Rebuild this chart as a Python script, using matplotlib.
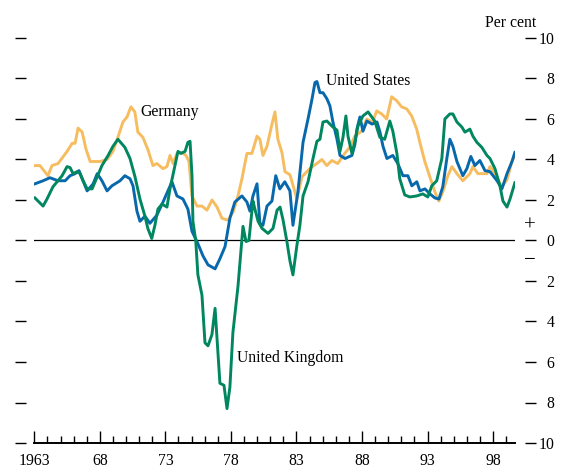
# inflacion_g3.py
# -*- coding: utf-8 -*-
import numpy as np
import matplotlib
matplotlib.use("Agg")
import matplotlib.pyplot as plt
from matplotlib.ticker import MultipleLocator

# ====== Datos ======
# Alemania
de_year = [1963.05, 1963.43, 1964.04, 1964.35, 1964.81, 1965.50, 1965.89, 1966.11, 1966.34, 1966.65,
           1966.95, 1967.26, 1968.01, 1968.55, 1969.00, 1969.38, 1969.76, 1970.07, 1970.37, 1970.67,
           1970.90, 1971.28, 1971.66, 1972.05, 1972.35, 1972.82, 1973.12, 1973.35, 1973.59, 1973.88,
           1974.27, 1974.57, 1974.80, 1975.03, 1975.41, 1975.79, 1976.17, 1976.56, 1976.94, 1977.31,
           1977.78, 1978.16, 1978.54, 1978.84, 1979.22, 1979.60, 1979.99, 1980.21, 1980.44, 1980.75,
           1981.13, 1981.36, 1981.58, 1981.89, 1982.12, 1982.50, 1982.88, 1983.03, 1983.42, 1984.02,
           1984.55, 1984.94, 1985.31, 1985.70, 1986.15, 1986.68, 1987.06, 1987.45, 1987.97, 1988.36,
           1988.81, 1989.12, 1989.50, 1989.88, 1990.26, 1990.65, 1991.02, 1991.41, 1991.79, 1992.17,
           1992.41, 1992.79, 1993.17, 1993.56, 1993.86, 1994.16, 1994.55, 1994.86, 1995.24, 1995.69,
           1996.23, 1996.46, 1996.84, 1997.53, 1997.76, 1998.14, 1998.67, 1999.06, 1999.44, 1999.66]
de_val = [3.7, 3.7, 3.2, 3.7, 3.8, 4.4, 4.8, 4.8, 5.55, 5.35,
          4.5, 3.9, 3.9, 4.0, 4.4, 5.1, 5.85, 6.1, 6.6, 6.35,
          5.35, 5.1, 4.5, 3.7, 3.8, 3.55, 3.65, 4.2, 3.8, 4.3,
          4.35, 4.2, 3.9, 2.2, 1.7, 1.7, 1.5, 2.0, 1.65, 1.1,
          1.0, 1.4, 2.2, 3.05, 4.3, 4.3, 5.15, 5.0, 4.2, 4.65,
          5.75, 6.35, 5.0, 4.35, 3.4, 3.25, 2.4, 2.05, 3.15, 3.55,
          3.8, 4.0, 3.7, 3.95, 3.8, 4.3, 4.6, 5.15, 5.4, 6.0,
          5.85, 6.4, 6.25, 6.0, 7.1, 6.9, 6.6, 6.5, 6.15, 5.5,
          4.85, 3.9, 3.15, 2.4, 1.95, 2.4, 3.2, 3.65, 3.3, 2.95,
          3.3, 3.65, 3.3, 3.3, 3.65, 3.3, 2.65, 3.0, 3.9, 4.2]

# Estados Unidos
us_year = [1963.05, 1963.67, 1964.19, 1964.81, 1965.35, 1965.73, 1966.11, 1966.41, 1966.72, 1967.03,
           1967.49, 1967.80, 1968.16, 1968.55, 1968.92, 1969.54, 1969.91, 1970.30, 1970.53, 1970.83,
           1971.06, 1971.44, 1971.82, 1972.35, 1972.82, 1973.50, 1973.88, 1974.34, 1974.72, 1975.03,
           1975.41, 1975.86, 1976.25, 1976.79, 1977.16, 1977.55, 1977.92, 1978.30, 1978.84, 1979.22,
           1979.45, 1979.68, 1979.99, 1980.21, 1980.44, 1980.75, 1981.13, 1981.42, 1981.73, 1982.11,
           1982.50, 1982.73, 1983.11, 1983.50, 1983.88, 1984.19, 1984.41, 1984.56, 1984.79, 1985.02,
           1985.32, 1985.55, 1985.78, 1986.09, 1986.32, 1986.70, 1987.23, 1987.46, 1987.61, 1987.84,
           1988.07, 1988.37, 1988.76, 1989.14, 1989.37, 1989.60, 1989.90, 1990.35, 1990.73, 1991.12,
           1991.50, 1991.80, 1992.18, 1992.42, 1992.80, 1993.18, 1993.56, 1993.87, 1994.16, 1994.47,
           1994.70, 1994.93, 1995.24, 1995.69, 1996.00, 1996.30, 1996.61, 1996.99, 1997.38, 1997.76,
           1998.30, 1998.67, 1999.06, 1999.44, 1999.66]
us_val = [2.8, 2.95, 3.1, 2.95, 2.95, 3.2, 3.3, 3.45, 2.95, 2.45,
          2.8, 3.3, 2.95, 2.45, 2.7, 2.95, 3.2, 3.05, 2.7, 1.45,
          0.95, 1.2, 0.85, 1.25, 1.9, 2.9, 2.2, 2.05, 1.55, 0.45,
          -0.05, -0.75, -1.2, -1.4, -0.9, -0.3, 1.1, 1.9, 2.2, 1.9,
          1.45, 2.2, 2.8, 0.85, 0.75, 1.7, 1.95, 3.2, 2.55, 2.9,
          2.45, 0.75, 2.4, 4.85, 6.0, 7.0, 7.8, 7.85, 7.3, 7.3,
          7.0, 6.65, 5.85, 5.0, 4.2, 4.05, 4.2, 4.75, 5.5, 6.1,
          5.4, 5.9, 5.75, 5.85, 5.35, 4.65, 4.05, 4.2, 3.8, 3.2,
          3.2, 2.7, 2.9, 2.45, 2.55, 2.3, 2.1, 2.05, 2.65, 4.05,
          5.0, 4.65, 3.9, 3.2, 3.55, 4.15, 3.7, 3.95, 3.45, 3.4,
          2.95, 2.55, 3.3, 3.9, 4.35]

# Reino Unido
uk_year = [1963.05, 1963.36, 1963.67, 1963.97, 1964.42, 1965.12, 1965.50, 1965.73, 1965.96, 1966.26,
           1966.49, 1966.72, 1967.03, 1967.41, 1967.80, 1968.16, 1968.63, 1969.00, 1969.38, 1969.91,
           1970.30, 1970.68, 1971.06, 1971.44, 1971.66, 1971.96, 1972.20, 1972.43, 1972.74, 1973.12,
           1973.35, 1973.73, 1973.96, 1974.19, 1974.50, 1974.72, 1974.88, 1975.03, 1975.10, 1975.32,
           1975.48, 1975.79, 1976.02, 1976.25, 1976.55, 1976.79, 1977.16, 1977.47, 1977.70, 1977.92,
           1978.15, 1978.54, 1978.92, 1979.15, 1979.37, 1979.68, 1979.83, 1980.07, 1980.37, 1980.83,
           1981.21, 1981.52, 1981.75, 1981.98, 1982.27, 1982.50, 1982.73, 1983.03, 1983.26, 1983.50,
           1983.88, 1984.26, 1984.56, 1984.79, 1985.02, 1985.32, 1985.78, 1986.09, 1986.32, 1986.55,
           1986.77, 1986.93, 1987.23, 1987.46, 1987.69, 1988.07, 1988.46, 1988.97, 1989.36, 1989.73,
           1990.12, 1990.35, 1990.66, 1990.88, 1991.26, 1991.65, 1992.17, 1992.64, 1993.02, 1993.32,
           1993.70, 1994.09, 1994.32, 1994.70, 1994.93, 1995.24, 1995.62, 1995.85, 1996.23, 1996.46,
           1996.76, 1997.14, 1997.53, 1997.76, 1998.14, 1998.52, 1998.75, 1999.06, 1999.29, 1999.66]
uk_val = [2.1, 1.9, 1.7, 2.05, 2.65, 3.2, 3.65, 3.6, 3.3, 3.4,
          3.3, 2.95, 2.55, 2.55, 3.15, 3.7, 4.2, 4.65, 5.0, 4.6,
          4.05, 3.15, 2.05, 1.2, 0.6, 0.1, 0.75, 1.55, 1.8, 1.65,
          2.55, 3.7, 4.4, 4.3, 4.4, 4.85, 4.9, 3.2, 0.95, -0.05,
          -1.7, -2.7, -5.05, -5.2, -4.65, -3.35, -7.05, -7.15, -8.3, -7.25,
          -4.55, -2.25, 0.7, -0.05, 0.0, 1.95, 1.55, 0.95, 0.6, 0.35,
          0.6, 1.5, 1.65, 1.0, -0.05, -1.0, -1.7, -0.25, 0.75, 2.2,
          2.9, 4.05, 4.9, 5.0, 5.85, 5.9, 5.6, 5.45, 4.4, 5.1,
          6.15, 5.15, 4.3, 4.9, 5.65, 6.15, 6.35, 5.9, 5.1, 5.0,
          5.9, 5.4, 4.3, 3.05, 2.25, 2.15, 2.2, 2.3, 2.15, 2.7,
          2.95, 4.05, 6.0, 6.25, 6.25, 5.85, 5.6, 5.35, 5.5, 5.15,
          4.85, 4.6, 4.2, 4.05, 3.55, 2.7, 1.95, 1.65, 2.05, 2.85]

# Ejes
x_major = [1963, 1968, 1973, 1978, 1983, 1988, 1993, 1998]
x_labels = ["1963", "68", "73", "78", "83", "88", "93", "98"]
y_ticks = [-10, -8, -6, -4, -2, 0, 2, 4, 6, 8, 10]
y_labels = ["10", "8", "6", "4", "2", "0", "2", "4", "6", "8", "10"]

COL_DE = "#F6BD60"
COL_US = "#0868AC"
COL_UK = "#00875F"

FONT = "Liberation Serif"
FS = 11.3


def main():
    plt.rcParams["font.family"] = [FONT, "DejaVu Serif"]
    fig = plt.figure(figsize=(5.72, 4.68), dpi=100)
    W, H = 572.0, 468.0
    # posicion en pixeles: x 34.3..515, y 38..443
    ax = fig.add_axes([34.3 / W, 1 - 443 / H, (515 - 34.3) / W, (443 - 38) / H])

    ax.axhline(0, color="black", lw=0.9, zorder=1)
    ax.plot(de_year, de_val, color=COL_DE, lw=2.1, zorder=2)
    ax.plot(us_year, us_val, color=COL_US, lw=2.1, zorder=3)
    ax.plot(uk_year, uk_val, color=COL_UK, lw=2.1, zorder=4)

    ax.set_xlim(1963, 1999.67)
    ax.set_ylim(-10, 10)

    # eje x con marcas hacia adentro
    ax.set_xticks(x_major)
    ax.set_xticklabels(x_labels, fontsize=FS)
    ax.xaxis.set_minor_locator(MultipleLocator(1))
    ax.tick_params(axis="x", which="major", direction="in", length=9.0, width=1.0, pad=7.5)
    ax.tick_params(axis="x", which="minor", direction="in", length=4.8, width=1.0)
    ax.spines["bottom"].set_linewidth(1.4)
    ax.spines["top"].set_visible(False)

    # eje y: rayitas separadas a ambos lados, etiquetas solo a la derecha
    ax.spines["left"].set_position(("outward", 6))
    ax.spines["right"].set_position(("outward", 7.2))
    ax.spines["left"].set_color("none")
    ax.spines["right"].set_color("none")
    ax.set_yticks(y_ticks)
    ax.set_yticklabels(y_labels, fontsize=FS)
    ax.tick_params(axis="y", left=True, right=True, labelleft=False, labelright=True,
                   direction="out", length=8.2, width=1.0, pad=13)
    for lab in ax.get_yticklabels():
        lab.set_horizontalalignment("right")

    # signos junto al cero
    ytr = ax.get_yaxis_transform()
    ax.text(1.031, 0.72, "+", transform=ytr, ha="center", va="center", fontsize=15)
    ax.text(1.031, -1.0, "\u2212", transform=ytr, ha="center", va="center", fontsize=15)

    # rotulos de series
    ax.text(1971.06, 6.15, "Germany", fontsize=FS, va="baseline")
    ax.text(1985.25, 7.68, "United States", fontsize=FS, va="baseline")
    ax.text(1978.45, -6.0, "United Kingdom", fontsize=FS, va="baseline")

    fig.text(536 / W, 1 - 27 / H, "Per cent", ha="right", va="baseline", fontsize=FS)

    fig.savefig("out.png", dpi=100)
    plt.close(fig)


if __name__ == "__main__":
    main()
